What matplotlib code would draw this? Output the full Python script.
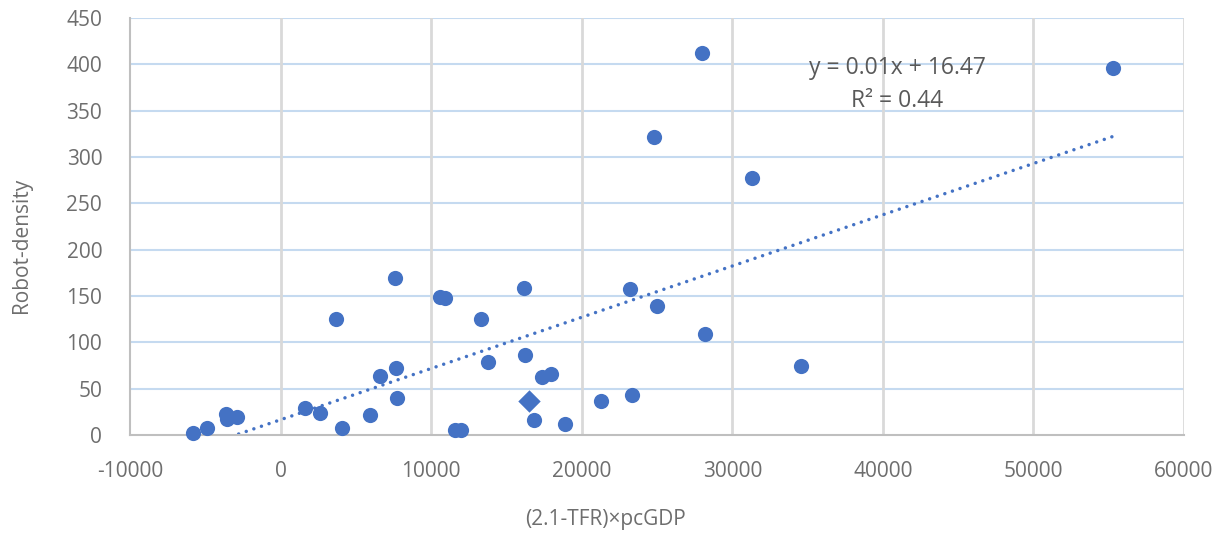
import matplotlib.pyplot as plt
import numpy as np

# Data
x_pts = [-5810, -4880, -3620, -3550, -2890, 1630, 2620, 3690, 4080, 5940,
         6610, 7600, 7670, 7740, 10590, 10920, 11590, 11990, 13310, 13780,
         16170, 16230, 16830, 17360, 17960, 18890, 21280, 23210, 23340,
         24800, 25000, 27990, 28190, 31310, 34560, 55270]
y_pts = [2, 8, 23, 17, 19, 29, 24, 125, 8, 22,
         64, 169, 72, 40, 149, 148, 5, 5, 125, 79,
         159, 86, 16, 63, 66, 12, 37, 158, 43,
         322, 139, 412, 109, 277, 74, 396]
diamond_x = [16500]
diamond_y = [37]

# trendline as drawn
slope = 0.00553
intercept = 16.47
eq_text = "y = 0.01x + 16.47"
r2_text = "R\u00b2 = 0.44"

blue = "#4472C4"
txt = "#6E6E6E"

plt.rcParams['font.family'] = ['Open Sans', 'DejaVu Sans']
plt.rcParams['axes.unicode_minus'] = False

fig = plt.figure(figsize=(12.25, 5.33), dpi=100)
ax = fig.add_axes([130/1225, 1 - 435/533, (1184 - 130)/1225, (435 - 18)/533])

ax.set_xlim(-10000, 60000)
ax.set_ylim(0, 450)
ax.set_xticks(np.arange(-10000, 60001, 10000))
ax.set_yticks(np.arange(0, 451, 50))

# grid
for yv in ax.get_yticks()[1:]:
    ax.axhline(yv, color="#C5DAF0", lw=1.5, zorder=0)
for xv in ax.get_xticks()[1:]:
    ax.axvline(xv, color="#D9D9D9", lw=2, zorder=0)

for s in ["top", "right"]:
    ax.spines[s].set_visible(False)
for s in ["left", "bottom"]:
    ax.spines[s].set_color("#BFBFBF")
    ax.spines[s].set_linewidth(1.5)

ax.tick_params(length=0, labelsize=15, colors=txt)
ax.tick_params(axis='x', pad=19)
ax.tick_params(axis='y', pad=20)

# trendline
tx = np.linspace(min(x_pts), max(x_pts), 200)
ax.plot(tx, slope * tx + intercept, color=blue, lw=2.5,
        linestyle=(0, (0.01, 2.3)), dash_capstyle="round", zorder=2)

ax.scatter(x_pts, y_pts, s=120, color=blue, zorder=3, linewidths=0, clip_on=False)
ax.scatter(diamond_x, diamond_y, s=130, marker="D", color=blue, zorder=3, linewidths=0)

ax.text(897/1225, 1 - 68/533, eq_text, transform=fig.transFigure, ha="center",
        va="center", fontsize=16.5, color="#595959")
ax.text(897/1225, 1 - 101/533, r2_text, transform=fig.transFigure, ha="center",
        va="center", fontsize=16.5, color="#595959")

fig.text(605/1225, 1 - 519/533, "(2.1-TFR)\u00d7pcGDP", ha="center", va="center",
         fontsize=15, color=txt)
fig.text(22/1225, 1 - 245/533, "Robot-density", ha="center", va="center",
         rotation=90, fontsize=15, color=txt)

fig.savefig("out.png", dpi=100)
